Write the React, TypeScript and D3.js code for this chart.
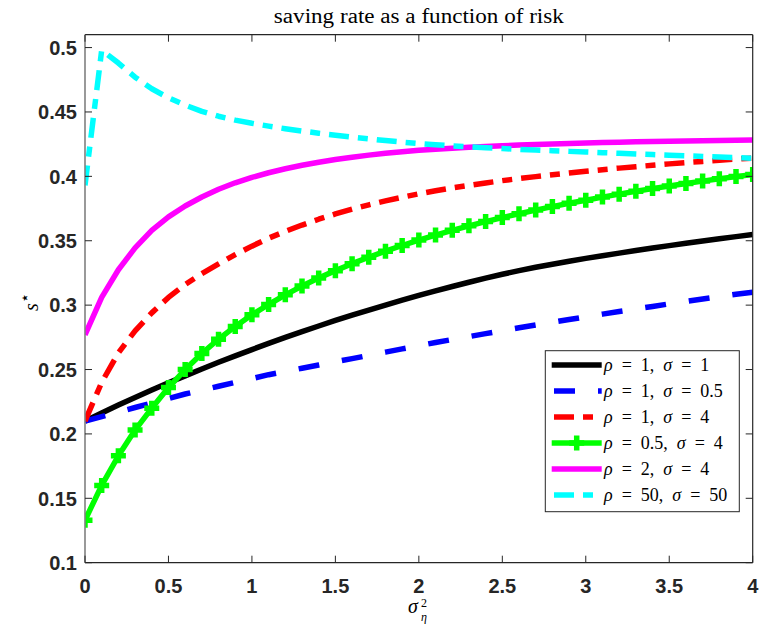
import React from 'react';
import * as d3 from 'd3';

// sigma_eta^2 grid (41 points)
const sigma2 = [
  0, 0.1, 0.2, 0.3, 0.4, 0.5, 0.6, 0.7, 0.8, 0.9, 1.0, 1.1, 1.2, 1.3, 1.4, 1.5, 1.6, 1.7, 1.8, 1.9, 2.0,
  2.1, 2.2, 2.3, 2.4, 2.5, 2.6, 2.7, 2.8, 2.9, 3.0, 3.1, 3.2, 3.3, 3.4, 3.5, 3.6, 3.7, 3.8, 3.9, 4.0,
];

const rho1Sig1 = [
  0.210, 0.2163, 0.2224, 0.2283, 0.2341, 0.2397, 0.2451, 0.2504, 0.2556, 0.2606, 0.2655, 0.2703, 0.2749,
  0.2794, 0.2838, 0.2881, 0.2922, 0.2962, 0.3001, 0.3039, 0.3076, 0.3111, 0.3145, 0.3178, 0.3210, 0.3240,
  0.3268, 0.3294, 0.3318, 0.3341, 0.3363, 0.3384, 0.3404, 0.3424, 0.3443, 0.3462, 0.3480, 0.3498, 0.3515,
  0.3532, 0.3549,
];
const rho1Sig05 = [
  0.210, 0.2135, 0.217, 0.2205, 0.224, 0.2275, 0.231, 0.234, 0.237, 0.240, 0.243, 0.246, 0.2485, 0.251,
  0.2535, 0.256, 0.2585, 0.261, 0.2635, 0.266, 0.2685, 0.271, 0.2733, 0.2756, 0.2779, 0.2802, 0.2824, 0.2846,
  0.2867, 0.2888, 0.2909, 0.2930, 0.2950, 0.2970, 0.2990, 0.3010, 0.3029, 0.3048, 0.3066, 0.3084, 0.3100,
];
const rho1Sig4 = [
  0.210, 0.240, 0.263, 0.280, 0.294, 0.306, 0.316, 0.3245, 0.332, 0.3392, 0.3458, 0.352, 0.3573, 0.3622,
  0.3667, 0.3708, 0.3745, 0.3779, 0.381, 0.3838, 0.3864, 0.3888, 0.391, 0.393, 0.3949, 0.3967, 0.3983,
  0.3998, 0.4012, 0.4026, 0.4039, 0.4052, 0.4064, 0.4075, 0.4086, 0.4097, 0.4107, 0.4116, 0.4125, 0.4134,
  0.4142,
];
const rho05Sig4 = [
  0.133, 0.160, 0.183, 0.203, 0.220, 0.236, 0.250, 0.2625, 0.2735, 0.2835, 0.2925, 0.3005, 0.308, 0.3148,
  0.321, 0.3268, 0.3322, 0.3372, 0.3419, 0.3463, 0.3505, 0.3544, 0.3581, 0.3616, 0.3649, 0.368, 0.371,
  0.3738, 0.3765, 0.3791, 0.3815, 0.3839, 0.3862, 0.3884, 0.3905, 0.3925, 0.3944, 0.3963, 0.3981, 0.3998,
  0.4015,
];
const rho2Sig4 = [
  0.277, 0.306, 0.3275, 0.3445, 0.358, 0.3685, 0.377, 0.384, 0.390, 0.395, 0.3992, 0.4028, 0.4059, 0.4086,
  0.411, 0.4131, 0.4149, 0.4165, 0.4179, 0.4191, 0.4202, 0.4211, 0.4219, 0.4226, 0.4232, 0.4238, 0.4243,
  0.4248, 0.4252, 0.4256, 0.4259, 0.4262, 0.4265, 0.4268, 0.427, 0.4272, 0.4274, 0.4276, 0.4278, 0.428,
  0.4282,
];
const rho50Sig50 = [
  0.393, 0.498, 0.488, 0.477, 0.468, 0.461, 0.4553, 0.4505, 0.4467, 0.4437, 0.4412, 0.439, 0.437, 0.4352,
  0.4335, 0.432, 0.4305, 0.4291, 0.4278, 0.4266, 0.4255, 0.4245, 0.4237, 0.4229, 0.4222, 0.4216, 0.421,
  0.4204, 0.4199, 0.4194, 0.4189, 0.4184, 0.4179, 0.4174, 0.4169, 0.4164, 0.416, 0.4155, 0.415, 0.4146,
  0.414,
];

const seriesRho = ['1', '1', '1', '0.5', '2', '50'];
const seriesSigma = ['1', '0.5', '4', '4', '4', '50'];
const seriesValues = [rho1Sig1, rho1Sig05, rho1Sig4, rho05Sig4, rho2Sig4, rho50Sig50];

const xTicks = [0, 0.5, 1, 1.5, 2, 2.5, 3, 3.5, 4];
const xTickLabels = ['0', '0.5', '1', '1.5', '2', '2.5', '3', '3.5', '4'];
const yTicks = [0.1, 0.15, 0.2, 0.25, 0.3, 0.35, 0.4, 0.45, 0.5];
const yTickLabels = ['0.1', '0.15', '0.2', '0.25', '0.3', '0.35', '0.4', '0.45', '0.5'];

const styles = [
  { color: '#000000', dash: null, marker: false },
  { color: '#0000ff', dash: '21 23', marker: false },
  { color: '#ff0000', dash: '20 9 10 9', marker: false },
  { color: '#00ff00', dash: null, marker: true },
  { color: '#ff00ff', dash: null, marker: false },
  { color: '#00ffff', dash: '20 9 10 9', marker: false },
];

const W = 759;
const H = 628;
const L = 85, R = 752.7, T = 34.7, B = 562.7;
const axisColor = '#262626';
const serif = '"Liberation Serif", "Times New Roman", serif';
const sans = '"Liberation Sans", Arial, Helvetica, sans-serif';
const lw = 5.5;

const plus = 'M-7.5,0H7.5M0,-7.5V7.5';

const App = () => {
  const x = d3.scaleLinear().domain([0, 4]).range([L, R]);
  const y = d3.scaleLinear().domain([0.1, 0.51]).range([B, T]);
  const line = d3.line<number>().x((_, i) => x(sigma2[i])).y(v => y(v));

  const legX = 545.3, legY = 350.7, legW = 194, legH = 161;
  const rowH = 26;

  return (
    <svg width={W} height={H} style={{ position: 'absolute', left: 0, top: 0, background: '#fff' }}>
      <rect x={0} y={0} width={W} height={H} fill="#fff" />
      <defs>
        <clipPath id="plot">
          <rect x={L} y={T} width={R - L} height={B - T} />
        </clipPath>
      </defs>

      {/* title */}
      <text x={(L + R) / 2} y={22.7} textAnchor="middle" fontFamily={serif} fontSize={20}
        textLength={290} lengthAdjust="spacingAndGlyphs" fill="#000">
        saving rate as a function of risk
      </text>

      {/* series */}
      <g clipPath="url(#plot)">
        {seriesValues.map((vals, k) => (
          <g key={k}>
            <path d={line(vals) || ''} fill="none" stroke={styles[k].color} strokeWidth={lw}
              strokeDasharray={styles[k].dash || undefined} strokeLinejoin="round" />
            {styles[k].marker && vals.map((v, i) => (
              <path key={i} d={plus} transform={`translate(${x(sigma2[i])},${y(v)})`}
                stroke={styles[k].color} strokeWidth={5.5} fill="none" />
            ))}
          </g>
        ))}
      </g>

      {/* axes box */}
      <line x1={L} x2={R} y1={T} y2={T} stroke={axisColor} strokeWidth={1.2} />
      <line x1={R} x2={R} y1={T} y2={B} stroke={axisColor} strokeWidth={1.2} />
      <line x1={L} x2={R} y1={B} y2={B} stroke={axisColor} strokeWidth={1.2} />
      <line x1={L} x2={L} y1={T} y2={B} stroke="#808080" strokeWidth={1.6} />

      {xTicks.map((t, i) => (
        <g key={'x' + i}>
          <line x1={x(t)} x2={x(t)} y1={B} y2={B - 7} stroke={axisColor} />
          <line x1={x(t)} x2={x(t)} y1={T} y2={T + 7} stroke={axisColor} />
          <text x={x(t)} y={592.7} textAnchor="middle" fontFamily={sans} fontWeight="bold"
            fontSize={20} fill={axisColor}>{xTickLabels[i]}</text>
        </g>
      ))}
      {yTicks.map((t, i) => (
        <g key={'y' + i}>
          <line x1={L} x2={L + 7} y1={y(t)} y2={y(t)} stroke={axisColor} />
          <line x1={R} x2={R - 7} y1={y(t)} y2={y(t)} stroke={axisColor} />
          <text x={77} y={y(t)} dy="0.36em" textAnchor="end" fontFamily={sans} fontWeight="bold"
            fontSize={20} fill={axisColor}>{yTickLabels[i]}</text>
        </g>
      ))}

      {/* axis labels */}
      <g transform="translate(38,302) rotate(-90)">
        <text x={0} y={0} textAnchor="middle" fontFamily={serif} fontSize={20} fill="#000">
          <tspan fontStyle="italic">s</tspan>
          <tspan fontSize={16} dy={-8}>⋆</tspan>
        </text>
      </g>
      <text x={408} y={613} fontFamily={serif} fontStyle="italic" fontSize={20} fill="#000">σ</text>
      <text x={421} y={607} fontFamily={serif} fontSize={12} fill="#000">2</text>
      <text x={421} y={621} fontFamily={serif} fontStyle="italic" fontSize={12} fill="#000">η</text>

      {/* legend */}
      <rect x={legX} y={legY} width={legW} height={legH} fill="#fff" stroke={axisColor} strokeWidth={1} />
      {seriesValues.map((_, k) => {
        const cy = 365 + k * rowH;
        return (
          <g key={'l' + k}>
            <line x1={styles[k].dash ? 554 : 551.7} x2={601.7} y1={cy} y2={cy} stroke={styles[k].color}
              strokeWidth={lw} strokeDasharray={styles[k].dash || undefined} />
            {styles[k].marker && (
              <path d={plus} transform={`translate(576.7,${cy})`} stroke={styles[k].color}
                strokeWidth={5.5} fill="none" />
            )}
            <text x={604} y={cy} dy="0.33em" fontFamily={serif} fontSize={18} fill="#000">
              <tspan fontStyle="italic">ρ</tspan>
              {`\u2002=\u2002${seriesRho[k]},\u2002`}
              <tspan fontStyle="italic">σ</tspan>
              {`\u2002=\u2002${seriesSigma[k]}`}
            </text>
          </g>
        );
      })}
    </svg>
  );
};

export default App;
